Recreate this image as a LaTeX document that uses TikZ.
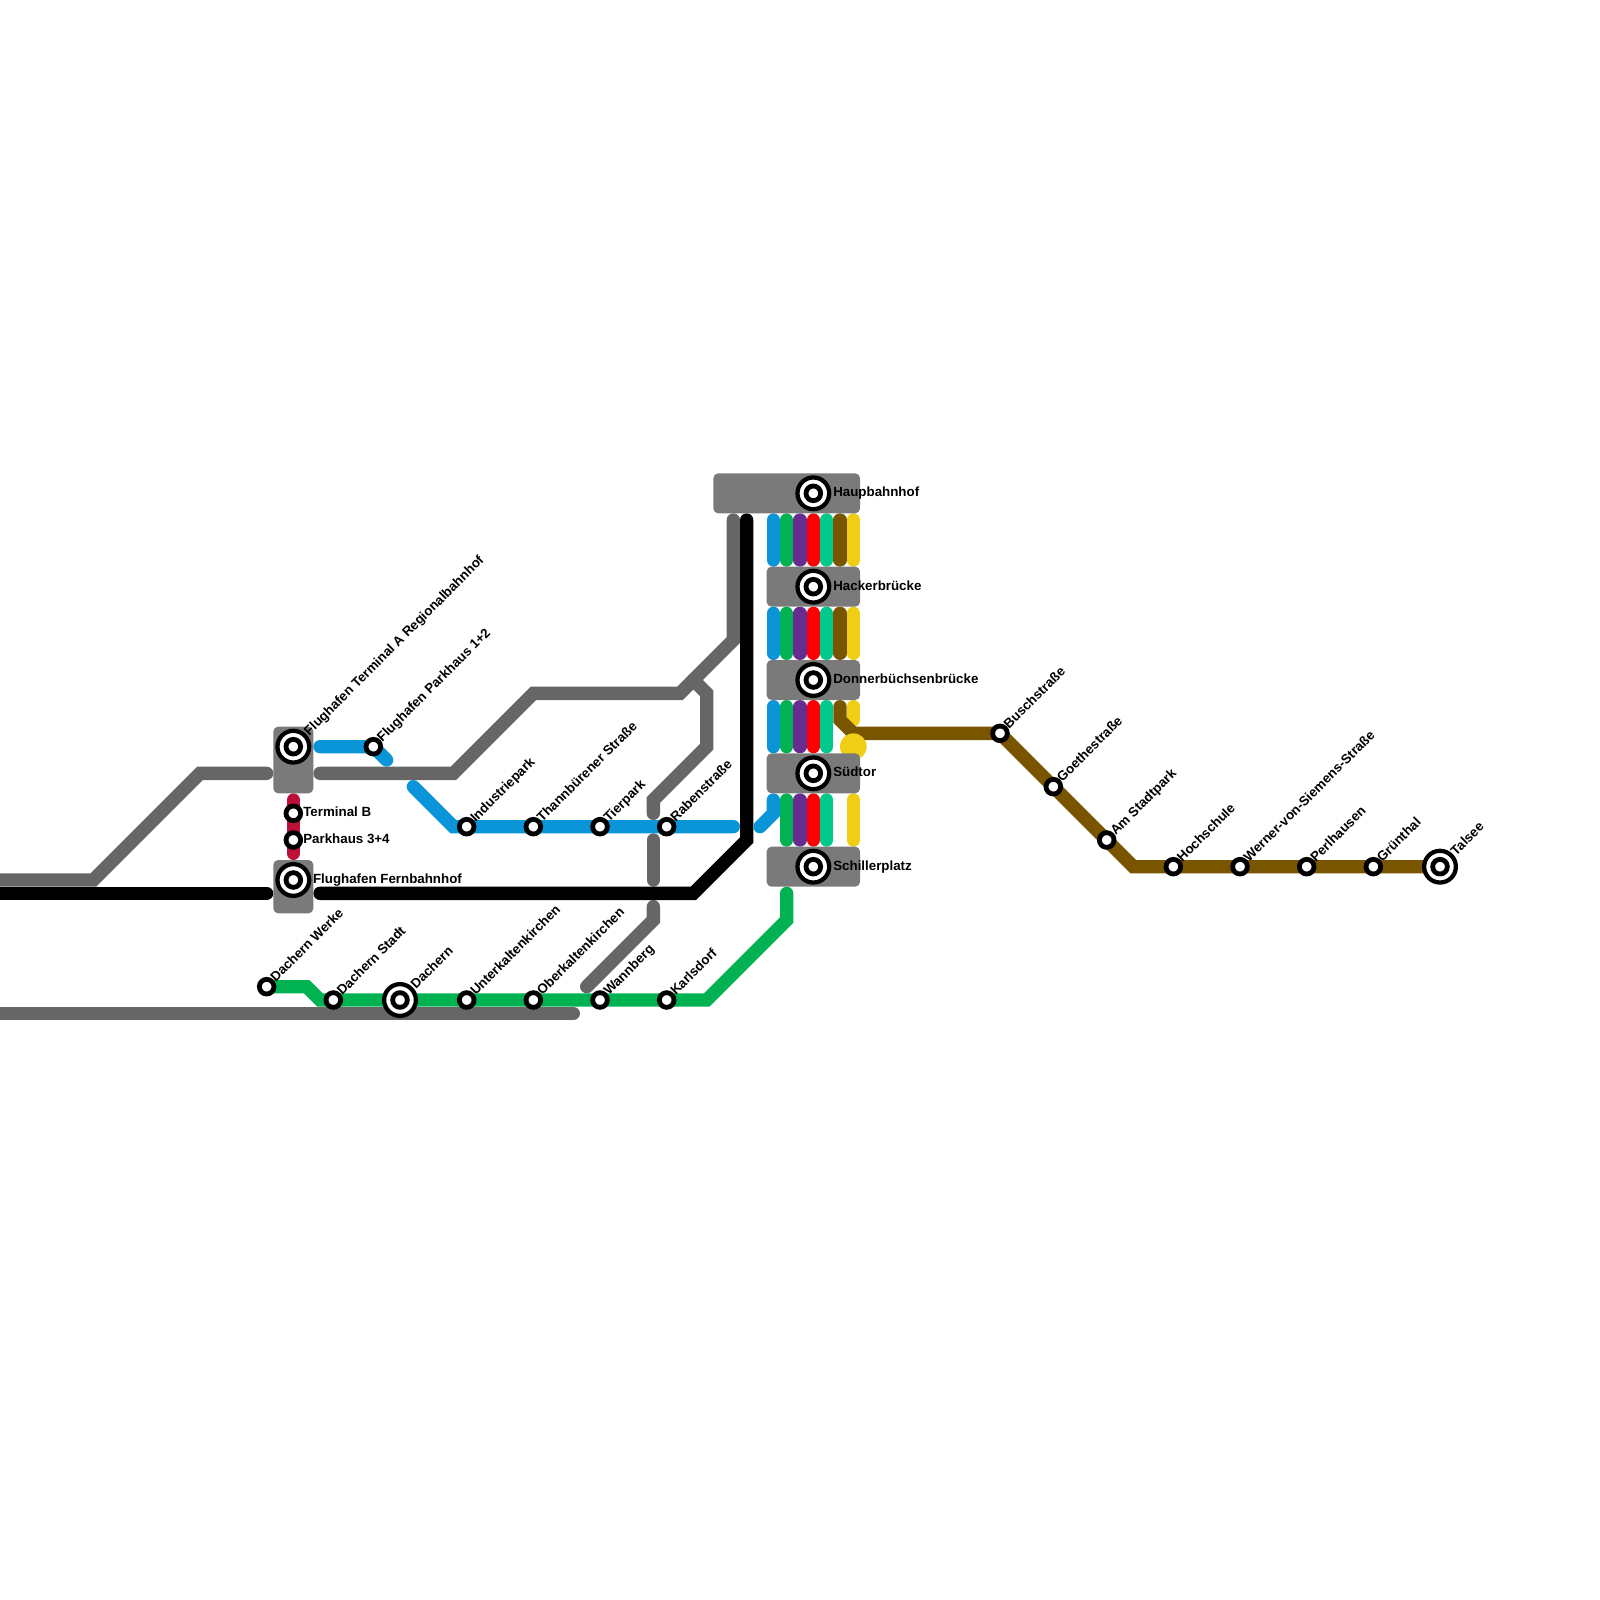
\documentclass[tikz,border=0pt]{standalone}
\usepackage{fontspec}
\setmainfont{Liberation Sans}
\definecolor{linegrey}{HTML}{666666}
\definecolor{hallgrey}{HTML}{7A7A7A}
\definecolor{lineblue}{HTML}{0A95D8}
\definecolor{linegreen}{HTML}{00B251}
\definecolor{linepurple}{HTML}{662C90}
\definecolor{linered}{HTML}{FF0000}
\definecolor{lineteal}{HTML}{00C98D}
\definecolor{linebrown}{HTML}{795500}
\definecolor{lineyellow}{HTML}{F0CE15}
\definecolor{linecrimson}{HTML}{BD1038}

\begin{document}
\begin{tikzpicture}[
  x=0.25cm,
  y=-0.25cm,
  every node/.style={font=\fontsize{7.11}{8.5}\selectfont\bfseries, black, inner sep=0pt},
  track/.style={line width=0.25cm, line cap=round, miter limit=10},
  hall/.style={fill=hallgrey, rounded corners=0.09cm},
  stop/.style={circle, draw=black, fill=white, line width=0.09cm, minimum size=0.275cm},
  hub/.style={circle, draw=black, fill=white, line width=0.08cm, minimum size=0.595cm},
  tagup/.style={xshift=0.12cm, yshift=0.117cm, rotate=45, anchor=west, text height=5.2pt, text depth=1.5pt},
  hubup/.style={xshift=0.25cm, yshift=0.237cm, rotate=45, anchor=west, text height=5.2pt, text depth=1.5pt},
  tagside/.style={anchor=west, text height=5.2pt, text depth=1.5pt}
]
  % ---- page, same size as the reference ----
  \useasboundingbox (0,0) rectangle (120,120);

  % ---- grey lines ----
  \draw[track, linegrey] (-1,66) -- (7,66) -- (15,58) -- (20,58);
  \draw[track, linegrey] (24,58) -- (34,58) -- (40,52) -- (51,52) -- (55,48) -- (55,39);
  \draw[track, linegrey] (52,51) -- (53,52) -- (53,56) -- (49,60) -- (49,61);
  \draw[track, linegrey] (49,63) -- (49,66);
  \draw[track, linegrey] (49,68) -- (49,69) -- (44,74);
  \draw[track, linegrey] (-1,76) -- (43,76);

  % ---- black line ----
  \draw[track, black] (-1,67) -- (20,67);
  \draw[track, black] (24,67) -- (52,67) -- (56,63) -- (56,39);

  % ---- airport shuttle ----
  \draw[track, linecrimson] (22,60) -- (22,64);

  % ---- blue line ----
  \draw[track, lineblue] (24,56) -- (28,56) -- (29,57);
  \draw[track, lineblue] (31,59) -- (34,62) -- (55,62);
  \draw[track, lineblue] (58,60) -- (58,61) -- (57,62);

  % ---- green line ----
  \draw[track, linegreen] (20,74) -- (23,74) -- (24,75) -- (53,75) -- (59,69) -- (59,67);

  % ---- trunk between the halls ----
  \foreach \ya/\yb in {39/42, 46/49, 53/56} {
    \draw[track, lineblue] (58,\ya) -- (58,\yb);
    \draw[track, linegreen] (59,\ya) -- (59,\yb);
    \draw[track, linepurple] (60,\ya) -- (60,\yb);
    \draw[track, linered] (61,\ya) -- (61,\yb);
    \draw[track, lineteal] (62,\ya) -- (62,\yb);
  }
  \draw[track, linegreen] (59,60) -- (59,63);
  \draw[track, linepurple] (60,60) -- (60,63);
  \draw[track, linered] (61,60) -- (61,63);
  \draw[track, lineteal] (62,60) -- (62,63);
  \foreach \ya/\yb in {39/42, 46/49} {
    \draw[track, linebrown] (63,\ya) -- (63,\yb);
    \draw[track, lineyellow] (64,\ya) -- (64,\yb);
  }
  \draw[track, lineyellow] (64,53) -- (64,54);
  \draw[track, lineyellow] (64,60) -- (64,63);

  % ---- brown line ----
  \draw[track, linebrown] (63,53) -- (63,54) -- (64,55) -- (75,55) -- (85,65) -- (108,65);
  \fill[lineyellow] (64,56) circle (0.25cm);

  % ---- halls ----
  \fill[hall] (53.5,35.5) rectangle (64.5,38.5);
  \fill[hall] (57.5,42.5) rectangle (64.5,45.5);
  \fill[hall] (57.5,49.5) rectangle (64.5,52.5);
  \fill[hall] (57.5,56.5) rectangle (64.5,59.5);
  \fill[hall] (57.5,63.5) rectangle (64.5,66.5);
  \fill[hall] (20.5,54.5) rectangle (23.5,59.5);
  \fill[hall] (20.5,64.5) rectangle (23.5,68.5);

  % ---- big stations ----
  \node[hub] (hauptbf) at (61,37) {};
  \node[stop] at (hauptbf) {};
  \node[tagside] (hauptbflabel) at (62.47,37) {Haupbahnhof};
  \node[hub] (hacker) at (61,44) {};
  \node[stop] at (hacker) {};
  \node[tagside] (hackerlabel) at (62.47,44) {Hackerbrücke};
  \node[hub] (donner) at (61,51) {};
  \node[stop] at (donner) {};
  \node[tagside] (donnerlabel) at (62.47,51) {Donnerbüchsenbrücke};
  \node[hub] (suedtor) at (61,58) {};
  \node[stop] at (suedtor) {};
  \node[tagside] (suedtorlabel) at (62.47,58) {Südtor};
  \node[hub] (schiller) at (61,65) {};
  \node[stop] at (schiller) {};
  \node[tagside] (schillerlabel) at (62.47,65) {Schillerplatz};
  \node[hub] (terminala) at (22,56) {};
  \node[stop] at (terminala) {};
  \node[hubup] (terminalalabel) at (terminala) {Flughafen Terminal A Regionalbahnhof};
  \node[hub] (fernbf) at (22,66) {};
  \node[stop] at (fernbf) {};
  \node[tagside] (fernbflabel) at (23.45,66) {Flughafen Fernbahnhof};
  \node[hub] (dachern) at (30,75) {};
  \node[stop] at (dachern) {};
  \node[hubup] (dachernlabel) at (dachern) {Dachern};
  \node[hub] (talsee) at (108,65) {};
  \node[stop] at (talsee) {};
  \node[hubup] (talseelabel) at (talsee) {Talsee};

  % ---- small stations, airport ----
  \node[stop] (parkhausa) at (28,56) {};
  \node[tagup] at (parkhausa) {Flughafen Parkhaus 1+2};
  \node[stop] (terminalb) at (22,61) {};
  \node[tagside] at (22.72,61) {Terminal B};
  \node[stop] (parkhausb) at (22,63) {};
  \node[tagside] at (22.72,63) {Parkhaus 3+4};

  % ---- small stations, blue line ----
  \node[stop] (industrie) at (35,62) {};
  \node[tagup] at (industrie) {Industriepark};
  \node[stop] (thann) at (40,62) {};
  \node[tagup] at (thann) {Thannbürener Straße};
  \node[stop] (tierpark) at (45,62) {};
  \node[tagup] at (tierpark) {Tierpark};
  \node[stop] (raben) at (50,62) {};
  \node[tagup] at (raben) {Rabenstraße};

  % ---- small stations, green line ----
  \node[stop] (werke) at (20,74) {};
  \node[tagup] at (werke) {Dachern Werke};
  \node[stop] (stadt) at (25,75) {};
  \node[tagup] at (stadt) {Dachern Stadt};
  \node[stop] (unterk) at (35,75) {};
  \node[tagup] at (unterk) {Unterkaltenkirchen};
  \node[stop] (oberk) at (40,75) {};
  \node[tagup] at (oberk) {Oberkaltenkirchen};
  \node[stop] (wannberg) at (45,75) {};
  \node[tagup] at (wannberg) {Wannberg};
  \node[stop] (karlsdorf) at (50,75) {};
  \node[tagup] at (karlsdorf) {Karlsdorf};

  % ---- small stations, brown line ----
  \node[stop] (busch) at (75,55) {};
  \node[tagup] at (busch) {Buschstraße};
  \node[stop] (goethe) at (79,59) {};
  \node[tagup] at (goethe) {Goethestraße};
  \node[stop] (stadtpark) at (83,63) {};
  \node[tagup] at (stadtpark) {Am Stadtpark};
  \node[stop] (hochschule) at (88,65) {};
  \node[tagup] at (hochschule) {Hochschule};
  \node[stop] (siemens) at (93,65) {};
  \node[tagup] at (siemens) {Werner-von-Siemens-Straße};
  \node[stop] (perlhausen) at (98,65) {};
  \node[tagup] at (perlhausen) {Perlhausen};
  \node[stop] (gruenthal) at (103,65) {};
  \node[tagup] at (gruenthal) {Grünthal};
\end{tikzpicture}
\end{document}
